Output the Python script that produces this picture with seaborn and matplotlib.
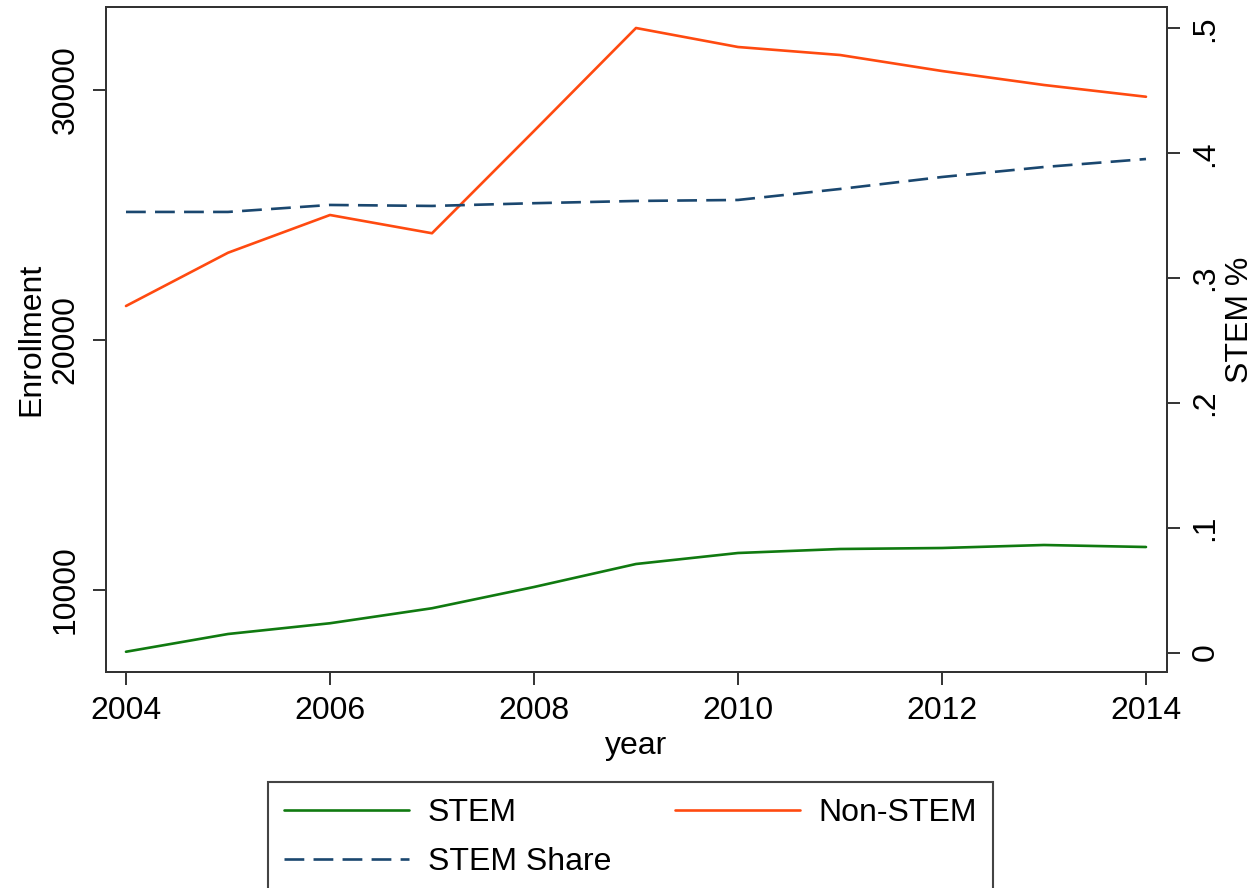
import matplotlib
matplotlib.use("Agg")
import matplotlib.pyplot as plt
import seaborn as sns
import pandas as pd

# ---- data ----
years = [2004, 2005, 2006, 2007, 2008, 2009, 2010, 2011, 2012, 2013, 2014]
stem = [7530, 8240, 8670, 9270, 10120, 11040, 11480, 11640, 11680, 11800, 11720]
non_stem = [21360, 23490, 25000, 24270, 28360, 32480, 31720, 31400, 30760, 30200, 29730]
stem_share = [0.353, 0.353, 0.3586, 0.3578, 0.360, 0.3618, 0.3626, 0.3714, 0.381, 0.389, 0.3954]

x_ticks = [2004, 2006, 2008, 2010, 2012, 2014]
left_ticks = [10000, 20000, 30000]
right_ticks = [0, 0.1, 0.2, 0.3, 0.4, 0.5]
right_tick_labels = ["0", ".1", ".2", ".3", ".4", ".5"]

df = pd.DataFrame({"year": years, "STEM": stem, "Non-STEM": non_stem,
                   "STEM Share": stem_share})

sns.set_style("ticks")
plt.rcParams["font.family"] = ["Liberation Sans", "DejaVu Sans"]
plt.rcParams["text.color"] = "black"
plt.rcParams["axes.labelcolor"] = "black"

W, H = 1256, 888
fig = plt.figure(figsize=(W / 100, H / 100), dpi=100)
L, R, T, B = 106, 1167, 7, 672
ax = fig.add_axes([L / W, (H - B) / H, (R - L) / W, (B - T) / H])
ax2 = ax.twinx()

green = "#107a10"
orange = "#ff4a10"
navy = "#1a476f"
spine_c = "#333333"
fs = 23

sns.lineplot(data=df, x="year", y="STEM", ax=ax, color=green, linewidth=1.9,
             label="STEM", legend=False)
sns.lineplot(data=df, x="year", y="Non-STEM", ax=ax, color=orange, linewidth=1.9,
             label="Non-STEM", legend=False)
sns.lineplot(data=df, x="year", y="STEM Share", ax=ax2, color=navy, linewidth=1.9,
             label="STEM Share", legend=False, dashes=False)
ax2.lines[0].set_dashes((7.5, 3.5))

ax.set_xlim(2003.804, 2014.206)
ax.set_ylim(6720, 33320)
ax2.set_ylim(-0.0156, 0.5172)

ax.set_xticks(x_ticks)
ax.set_xticklabels([str(v) for v in x_ticks])
ax.set_yticks(left_ticks)
ax.set_yticklabels([str(v) for v in left_ticks])
ax2.set_yticks(right_ticks)
ax2.set_yticklabels(right_tick_labels)

for a in (ax, ax2):
    a.tick_params(axis="both", direction="out", length=9.5, width=1.4,
                  color=spine_c, labelsize=fs, pad=8, labelcolor="black")
    for s in a.spines.values():
        s.set_visible(True)
        s.set_color(spine_c)
        s.set_linewidth(1.4)
ax.tick_params(axis="y", labelrotation=90, pad=9)
ax2.tick_params(axis="y", labelrotation=90, pad=7.5)
for lab in ax.get_yticklabels() + ax2.get_yticklabels():
    lab.set_va("center")

ax.set_xlabel("year", fontsize=fs)
ax.set_ylabel("Enrollment", fontsize=fs)
ax2.set_ylabel("STEM %", fontsize=fs)
ax.xaxis.set_label_coords(0.5, -0.089)
ax.yaxis.set_label_coords(-0.0565, 0.5)
ax2.yaxis.set_label_coords(1.0545, 0.529)
ax.grid(False)
ax2.grid(False)

handles = ax.get_lines()[:1] + ax2.get_lines()[:1] + ax.get_lines()[1:2]
labels = ["STEM", "STEM Share", "Non-STEM"]
leg = fig.legend(handles, labels, loc="upper left",
                 bbox_to_anchor=(268 / W, 1 - 782 / H), bbox_transform=fig.transFigure,
                 ncol=2, fontsize=23, handlelength=3.9, handletextpad=0.6,
                 columnspacing=2.0, borderpad=0.5, labelspacing=0.6,
                 borderaxespad=0, frameon=True, fancybox=False, framealpha=1)
leg.get_frame().set_edgecolor("#444444")
leg.get_frame().set_linewidth(1.5)

fig.savefig("out.png", dpi=100)
